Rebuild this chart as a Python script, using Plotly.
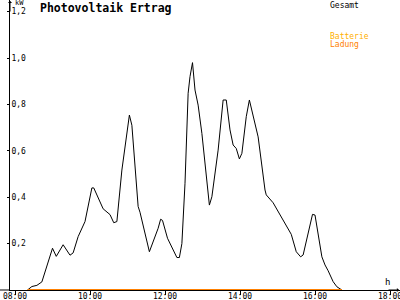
import plotly.graph_objects as go

# ---- data ----
gesamt_times = ["08:20", "08:27", "08:35", "08:43", "09:00", "09:06", "09:17", "09:28",
                "09:33", "09:41", "09:52", "10:03", "10:06", "10:11", "10:21", "10:32",
                "10:38", "10:43", "10:51", "11:03", "11:07", "11:17", "11:20", "11:35",
                "11:49", "11:53", "11:56", "12:04", "12:19", "12:23", "12:27", "12:32",
                "12:37", "12:40", "12:44", "12:48", "12:53", "12:59", "13:11", "13:15",
                "13:25", "13:33", "13:38", "13:44", "13:49", "13:54", "13:59", "14:03",
                "14:10", "14:15", "14:22", "14:29", "14:40", "14:42", "14:53", "15:01",
                "15:09", "15:22", "15:30", "15:37", "15:41", "15:51", "15:56", "16:00",
                "16:05", "16:11", "16:16", "16:21", "16:29", "16:35", "16:43"]
gesamt_values = [0.0, 0.015, 0.02, 0.035, 0.18, 0.145, 0.195, 0.15,
                 0.16, 0.23, 0.295, 0.44, 0.44, 0.41, 0.35, 0.325,
                 0.29, 0.295, 0.517, 0.754, 0.71, 0.36, 0.335, 0.165,
                 0.266, 0.305, 0.30, 0.223, 0.14, 0.14, 0.20, 0.46,
                 0.848, 0.92, 0.98, 0.862, 0.797, 0.675, 0.366, 0.402,
                 0.603, 0.819, 0.819, 0.69, 0.625, 0.61, 0.565, 0.589,
                 0.747, 0.819, 0.733, 0.66, 0.431, 0.41, 0.376, 0.337,
                 0.30, 0.24, 0.165, 0.143, 0.151, 0.273, 0.326, 0.323,
                 0.244, 0.143, 0.108, 0.083, 0.036, 0.014, 0.0]
batterie_times = ["08:20", "16:43"]
batterie_values = [0.0, 0.0]

x_tick_hours = [8, 10, 12, 14, 16, 18]
x_tick_labels = ["08:00", "10:00", "12:00", "14:00", "16:00", "18:00"]
y_tick_values = [0.2, 0.4, 0.6, 0.8, 1.0, 1.2]
y_tick_labels = ["0,2", "0,4", "0,6", "0,8", "1,0", "1,2"]


def to_hours(t):
    h, m = t.split(":")
    return int(h) + int(m) / 60.0


W, H = 400, 300
ML, MB = 10, 10
PW, PH = W - ML, H - MB


def fx(x):
    return (x - ML) / PW


def fy(y):
    return (PH - y) / PH


MONO = "DejaVu Sans Mono"

fig = go.Figure()
fig.add_trace(go.Scatter(x=[to_hours(t) for t in gesamt_times], y=gesamt_values,
                         mode="lines", line=dict(color="#000000", width=1),
                         name="Gesamt", showlegend=False))
fig.add_trace(go.Scatter(x=[to_hours(t) for t in batterie_times], y=batterie_values,
                         mode="lines", line=dict(color="#ff8000", width=2),
                         name="Batterie Ladung", showlegend=False))

fig.update_layout(
    template="none",
    width=W, height=H,
    margin=dict(l=ML, r=0, t=0, b=MB, pad=0, autoexpand=False),
    paper_bgcolor="#ffffff", plot_bgcolor="#ffffff",
    showlegend=False,
    xaxis=dict(range=[8 - 5 / 37.5, 8 + 385 / 37.5], tickvals=x_tick_hours,
               ticktext=x_tick_labels, showgrid=False, zeroline=False,
               automargin=False, ticklabeloverflow="allow",
               showline=True, linecolor="#000", linewidth=1,
               ticks="outside", ticklen=4, tickcolor="#000",
               ticklabelstandoff=-6,
               tickfont=dict(family=MONO, size=8, color="#000")),
    yaxis=dict(range=[0, 1.25], tickvals=y_tick_values, ticktext=y_tick_labels,
               showgrid=False, zeroline=False, showline=True, linecolor="#000",
               automargin=False, ticklabeloverflow="allow",
               linewidth=1, ticks="outside", ticklen=2, tickcolor="#000",
               ticklabelposition="inside",
               tickfont=dict(family=MONO, size=8, color="#000")),
)

texts = [
    ("<b>Photovoltaik Ertrag</b>", 39, 8, 11.5, "#000000"),
    ("kW", 14, 3, 7, "#000000"),
    ("h", 384, 282, 9, "#000000"),
    ("Gesamt", 329, 5, 8, "#000000"),
    ("Batterie", 329, 36, 8, "#ffb000"),
    ("Ladung", 329, 45, 8, "#ff8000"),
]
for txt, x, y, size, col in texts:
    fig.add_annotation(text=txt, xref="paper", yref="paper", x=fx(x), y=fy(y),
                       xanchor="left", yanchor="middle", showarrow=False,
                       borderpad=0, font=dict(family=MONO, size=size, color=col))

fig.add_annotation(text="", xref="paper", yref="paper", x=fx(10), y=fy(1),
                   ax=0, ay=12, showarrow=True, arrowhead=1, arrowsize=0.7,
                   arrowwidth=1, arrowcolor="#000000")
fig.add_annotation(text="", xref="paper", yref="paper", x=fx(399), y=fy(290),
                   ax=-12, ay=0, showarrow=True, arrowhead=1, arrowsize=0.7,
                   arrowwidth=1, arrowcolor="#000000")
fig.add_shape(type="line", xref="paper", yref="paper", x0=fx(0), x1=fx(10),
              y0=0, y1=0, line=dict(color="#000000", width=1))

fig.write_html("out.html")
